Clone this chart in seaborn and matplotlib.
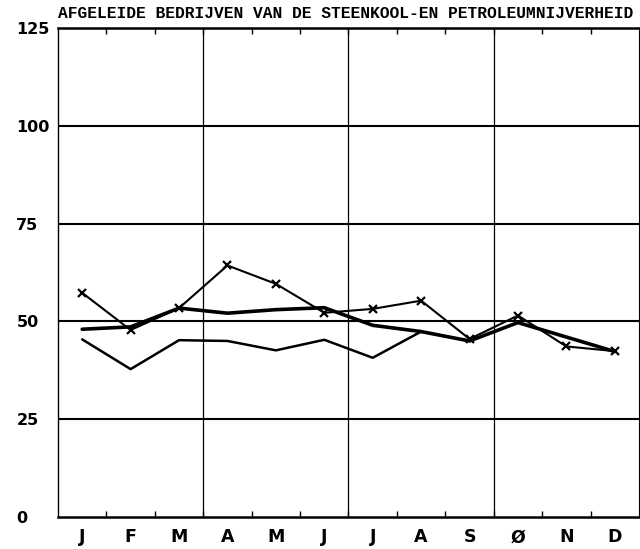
import matplotlib
matplotlib.use("Agg")
import matplotlib.pyplot as plt
import numpy as np
import pandas as pd
import seaborn as sns

# Monthly index values
months = ["J", "F", "M", "A", "M", "J", "J", "A", "S", "Ø", "N", "D"]
series_marked = [57.3, 47.8, 53.4, 64.3, 59.6, 52.2, 53.2, 55.3, 45.5, 51.5, 43.6, 42.4]
series_thick = [48.0, 48.6, 53.4, 52.1, 53.0, 53.5, 49.0, 47.4, 45.0, 49.7, 46.0, 42.3]
series_lower = [45.4, 37.8, 45.2, 45.0, 42.6, 45.3, 40.7, 47.4,
                np.nan, np.nan, np.nan, np.nan]
y_ticks = [0, 25, 50, 75, 100, 125]
title = "AFGELEIDE BEDRIJVEN VAN DE STEENKOOL-EN PETROLEUMNIJVERHEID"

sns.set_style("white")
plt.rcParams["text.color"] = "black"
plt.rcParams["xtick.color"] = "black"
plt.rcParams["ytick.color"] = "black"
label_font = ["Liberation Sans Narrow", "DejaVu Sans"]

x = np.arange(len(months))
df = pd.DataFrame({
    "pos": x,
    "marked": series_marked,
    "thick": series_thick,
    "lower": series_lower,
})

fig = plt.figure(figsize=(6.4, 5.49), dpi=100)
ax = fig.add_axes([58 / 640, 1 - 517 / 549, 581 / 640, 489 / 549])

# reference lines
for v in y_ticks[1:-1]:
    ax.axhline(v, color="black", lw=1.5, zorder=1)
for q in (2.5, 5.5, 8.5):
    ax.axvline(q, color="black", lw=0.9, zorder=1)

sns.lineplot(data=df, x="pos", y="marked", ax=ax, color="black", lw=1.5,
             marker="x", markersize=6, markeredgewidth=1.6,
             markeredgecolor="black", zorder=3)
sns.lineplot(data=df, x="pos", y="thick", ax=ax, color="black", lw=2.6, zorder=3)
sns.lineplot(data=df.dropna(), x="pos", y="lower", ax=ax, color="black",
             lw=1.8, zorder=3)

ax.set_xlim(-0.5, 11.5)
ax.set_ylim(0, 125)
ax.set_xlabel("")
ax.set_ylabel("")

# month labels at centres, short ticks at month boundaries
ax.set_xticks(x)
ax.set_xticklabels(months, family=label_font, fontsize=12.5, fontweight="bold",
                   color="black")
ax.tick_params(axis="x", which="major", length=0, pad=8)
ax.set_xticks(np.arange(0.5, 11.5, 1.0), minor=True)
ax.tick_params(axis="x", which="minor", direction="in", length=4, width=1,
               top=True, bottom=True, color="black")

ax.set_yticks(y_ticks)
ax.set_yticklabels([str(v) for v in y_ticks], family=label_font,
                   fontsize=11.5, fontweight="bold", ha="left", color="black")
ax.tick_params(axis="y", length=0, pad=30)

for side, lw in (("top", 1.8), ("bottom", 1.8), ("left", 1.0), ("right", 0.8)):
    ax.spines[side].set_visible(True)
    ax.spines[side].set_linewidth(lw)
    ax.spines[side].set_color("black")

# title in a spaced monospace face, sized to span the plot width
t = fig.text(58 / 640, 1 - 14 / 549, title, ha="left", va="center",
             family=["Liberation Mono", "DejaVu Sans Mono"], fontweight="bold",
             fontsize=11, color="black")
renderer = fig.canvas.get_renderer()
w = t.get_window_extent(renderer).width
t.set_fontsize(11 * 574 / w)

fig.savefig("out.png", dpi=100, facecolor="white")
